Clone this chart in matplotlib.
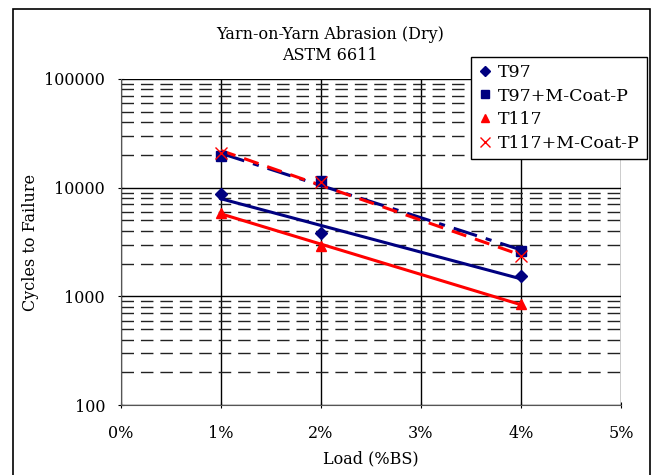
import numpy as np
import matplotlib
matplotlib.use("Agg")
import matplotlib.pyplot as plt
from matplotlib.ticker import FixedLocator, FuncFormatter, NullFormatter

plt.rcParams['font.family'] = ['DejaVu Serif']

# data
load = [1, 2, 4]  # %BS
t97 = [8800, 3820, 1530]
t97_coat = [19500, 11400, 2600]
t117 = [5900, 2900, 850]
t117_coat = [21000, 11200, 2350]

series = [
    ("T97", t97, "#000080", "D", "-"),
    ("T97+M-Coat-P", t97_coat, "#000080", "s", (0, (8, 3, 2, 3))),
    ("T117", t117, "#ff0000", "^", "-"),
    ("T117+M-Coat-P", t117_coat, "#ff0000", "x", (0, (5, 3))),
]

fig = plt.figure(figsize=(6.54, 4.75), dpi=100)
ax = fig.add_axes([0.185, 0.147, 0.7645, 0.687])

# outer frame around the whole chart (bottom edge is cut off)
fig.patches.append(plt.Rectangle((0.02, -0.05), 0.974, 1.031, transform=fig.transFigure,
                                 fill=False, edgecolor="black", lw=1.2))

ax.set_yscale("log")
ax.set_xlim(0, 5)
ax.set_ylim(100, 100000)

for name, vals, col, mk, ls in series:
    # exponential trendline (straight on log axis)
    b, a = np.polyfit(load, np.log(vals), 1)
    xs = np.array([load[0], load[-1]])
    ax.plot(xs, np.exp(a + b * xs), color=col, lw=2.2, ls=ls, zorder=3)
    if mk == "x":
        ax.plot(load, vals, ls="none", marker=mk, color=col, ms=8, mew=1, label=name, zorder=4)
    else:
        ax.plot(load, vals, ls="none", marker=mk, color=col, ms=7 if mk != "D" else 6,
                label=name, zorder=4)

# gridlines
ax.xaxis.set_major_locator(FixedLocator([0, 1, 2, 3, 4, 5]))
ax.xaxis.set_major_formatter(FuncFormatter(lambda v, p: "%d%%" % v))
ax.yaxis.set_major_locator(FixedLocator([100, 1000, 10000, 100000]))
ax.yaxis.set_major_formatter(FuncFormatter(lambda v, p: "%d" % v))
minor = [m * d for d in (100, 1000, 10000) for m in range(2, 10)]
ax.yaxis.set_minor_locator(FixedLocator(minor))
ax.yaxis.set_minor_formatter(NullFormatter())
ax.grid(True, which="major", color="black", lw=1)
ax.grid(True, which="minor", axis="y", color="#222222", lw=1, ls=(0, (9, 5)))
ax.set_axisbelow(True)

for s in ("top", "right"):
    ax.spines[s].set_visible(False)
for s in ("left", "bottom"):
    ax.spines[s].set_color("#555555")
ax.tick_params(which="major", length=5, direction="inout", labelsize=11.5, pad=12)
ax.tick_params(which="minor", length=0)
ax.tick_params(axis="y", pad=9)

ax.set_xlabel("Load (%BS)", fontsize=11.5, labelpad=6)
ax.set_ylabel("Cycles to Failure", fontsize=11.5, labelpad=4)
fig.text(0.505, 0.905, "Yarn-on-Yarn Abrasion (Dry)\nASTM 6611", ha="center", va="center",
         fontsize=11.5, linespacing=1.3)

leg = ax.legend(loc="upper left", bbox_to_anchor=(0.7, 1.067), fontsize=12.5, frameon=True,
                fancybox=False, edgecolor="black", framealpha=1, handlelength=0.8,
                handletextpad=0.35, borderpad=0.4, labelspacing=0.38, markerscale=0.85,
                borderaxespad=0)
leg.get_frame().set_linewidth(1)

fig.savefig("out.png", dpi=100)
